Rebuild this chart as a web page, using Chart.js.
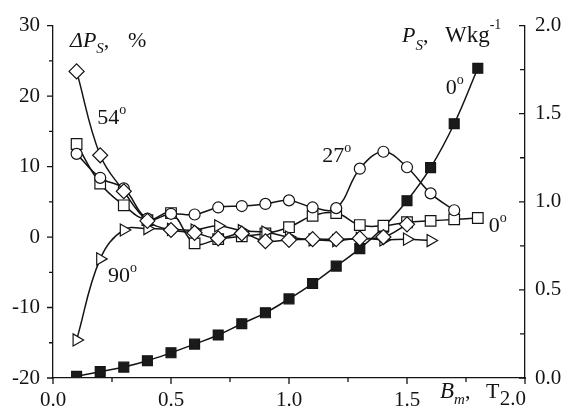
<!DOCTYPE html>
<html><head><meta charset="utf-8">
<script src="https://cdn.jsdelivr.net/npm/chart.js@4"></script>
<style>html,body{margin:0;padding:0;background:#fff}#wrap{width:566px;height:412px}</style>
</head><body><div id="wrap"><canvas id="c" width="566" height="412"></canvas></div>
<script>
// Magnetic flux density B_m, T
const bValues = [0.1,0.2,0.3,0.4,0.5,0.6,0.7,0.8,0.9,1.0,1.1,1.2,1.3,1.4,1.5,1.6,1.7,1.8];
// Specific loss P_S, W/kg (right axis), 0 deg
const lossPs = [0.010,0.036,0.062,0.098,0.143,0.192,0.244,0.308,0.370,0.449,0.536,0.635,0.734,0.856,1.006,1.194,1.443,1.758];
// Loss deviation dP_S, % (left axis)
const dev0  = [13.2,7.6,4.5,2.4,3.4,-0.9,-0.3,0.1,0.5,1.4,3.0,3.4,1.7,1.6,2.1,2.3,2.5,2.7];
const dev27 = [11.8,8.4,6.9,2.6,3.3,3.2,4.2,4.4,4.7,5.2,4.2,4.1,9.7,12.1,9.9,6.2,3.8];
const dev54 = [23.5,11.6,6.5,2.3,1.0,0.6,-0.2,0.5,-0.6,-0.4,-0.3,-0.3,-0.2,0.0,1.8];
const dev90 = [-14.6,-3.1,1.0,1.2,1.1,1.0,1.6,0.9,0.7,0.0,-0.4,-0.5,-0.2,-0.4,-0.3,-0.5];
// Axis ticks
const xTicks = [0,0.5,1.0,1.5,2.0];
const yLeftTicks = [-20,-10,0,10,20,30];
const yRightTicks = [0,0.5,1.0,1.5,2.0];

const INK = '#141414';
const SERIF = '"Liberation Serif", "Times New Roman", serif';
const pts = arr => arr.map((v,i)=>({x:bValues[i], y:v}));

function ds(data, style, extra){
  return Object.assign({
    data: pts(data), borderColor: INK, borderWidth: 1.5, tension: 0.4,
    pointStyle: style, pointRadius: 7, pointHoverRadius: 7,
    pointBackgroundColor: '#fff', pointBorderColor: INK, pointBorderWidth: 1.2,
    yAxisID: 'y', fill: false
  }, extra||{});
}

function rich(ctx, x, y, parts){
  ctx.textAlign='left'; ctx.textBaseline='alphabetic';
  for (const p of parts){
    ctx.font = p.f;
    const xx = p.x !== undefined ? p.x : x;
    ctx.fillText(p.t, xx, y + (p.dy||0));
    x = xx + ctx.measureText(p.t).width;
  }
}

const decor = {
  id:'decor',
  afterDraw(chart){
    const {ctx, chartArea:a, scales:{x,y,y2}} = chart;
    ctx.save();
    ctx.strokeStyle = INK; ctx.lineWidth = 1.3;
    ctx.beginPath();
    const mids = t => t.slice(1).map((v,i)=>(v+t[i])/2);
    xTicks.forEach(v=>{const p=x.getPixelForValue(v); ctx.moveTo(p,a.bottom); ctx.lineTo(p,a.bottom+6);});
    mids(xTicks).forEach(v=>{const p=x.getPixelForValue(v); ctx.moveTo(p,a.bottom); ctx.lineTo(p,a.bottom+4);});
    yLeftTicks.forEach(v=>{const p=y.getPixelForValue(v); ctx.moveTo(a.left,p); ctx.lineTo(a.left-6,p);});
    mids(yLeftTicks).forEach(v=>{const p=y.getPixelForValue(v); ctx.moveTo(a.left,p); ctx.lineTo(a.left-4,p);});
    yRightTicks.forEach(v=>{const p=y2.getPixelForValue(v); ctx.moveTo(a.right,p); ctx.lineTo(a.right-6,p);});
    mids(yRightTicks).forEach(v=>{const p=y2.getPixelForValue(v); ctx.moveTo(a.right,p); ctx.lineTo(a.right-5,p);});
    ctx.stroke();

    ctx.fillStyle = INK;
    // last x tick label, right-aligned to the axis end
    ctx.font = '21px '+SERIF; ctx.textAlign='right'; ctx.textBaseline='alphabetic';
    ctx.fillText('2.0', x.getPixelForValue(2.0)+1, a.bottom+27);

    const it22 = 'italic 22px '+SERIF, rm22 = '22px '+SERIF, sub='italic 15px '+SERIF, deg='14px '+SERIF;
    // Axis titles
    rich(ctx, a.left+17, 47, [{t:'\u0394P',f:it22},{t:'S',f:sub,dy:6},{t:',',f:rm22},{t:'%',f:rm22,x:a.left+75}]);
    rich(ctx, 402, 42, [{t:'P',f:it22},{t:'S',f:sub,dy:8},{t:',',f:rm22},{t:'Wkg',f:'23px '+SERIF,x:445},{t:'-1',f:deg,dy:-13}]);
    rich(ctx, 440, 398, [{t:'B',f:'italic 23px '+SERIF},{t:'m',f:sub,dy:6},{t:',',f:rm22},{t:'T',f:rm22,x:486}]);

    // curve labels (anchored in data units)
    const lab = (xv, yv, num, sc) => {
      const px = x.getPixelForValue(xv), py = (sc||y).getPixelForValue(yv);
      rich(ctx, px, py, [{t:num,f:rm22},{t:'o',f:deg,dy:-10}]);
    };
    lab(0.187, 16.1, '54');
    lab(1.141, 10.6, '27');
    lab(1.664, 20.35, '0');
    lab(1.846, 0.67, '0');
    lab(0.233, -6.4, '90');
    ctx.restore();
  }
};

const tickFont = {family:'Liberation Serif', size:21};
new Chart(document.getElementById('c'), {
  type:'line',
  data:{datasets:[
    ds(dev54,'rectRot',{pointRadius:7.5}),
    ds(dev90,'triangle',{rotation:90, pointRotation:90, pointRadius:7}),
    ds(dev27,'circle',{pointRadius:5.5}),
    ds(dev0,'rect',{pointRadius:7.5}),
    ds(lossPs,'rect',{yAxisID:'y2', pointBackgroundColor:'#1a1a1a', pointRadius:7})
  ]},
  options:{
    responsive:false, devicePixelRatio:1, animation:false,
    layout:{padding:{top:24,left:0,right:0,bottom:0}},
    plugins:{legend:{display:false}, tooltip:{enabled:false}},
    scales:{
      x:{type:'linear', min:0, max:2, position:'bottom',
        afterFit:s=>{s.height=34;},
        grid:{display:false, drawTicks:false},
        border:{display:true, color:INK, width:1.3},
        ticks:{stepSize:0.5, color:INK, font:tickFont, padding:10, maxRotation:0,
          callback:v=> Math.abs(v-2)<1e-9 ? '' : Number(v).toFixed(1)}},
      y:{type:'linear', min:-20, max:30, position:'left',
        afterFit:s=>{s.width=53;},
        grid:{display:false, drawTicks:false},
        border:{display:true, color:INK, width:1.3},
        ticks:{stepSize:10, color:INK, font:tickFont, padding:13}},
      y2:{type:'linear', min:0, max:2, position:'right',
        afterFit:s=>{s.width=41;},
        grid:{display:false, drawTicks:false},
        border:{display:true, color:INK, width:1.3},
        ticks:{stepSize:0.5, color:INK, font:tickFont, padding:10, callback:v=>Number(v).toFixed(1)}}
    }
  },
  plugins:[decor]
});
</script></body></html>
